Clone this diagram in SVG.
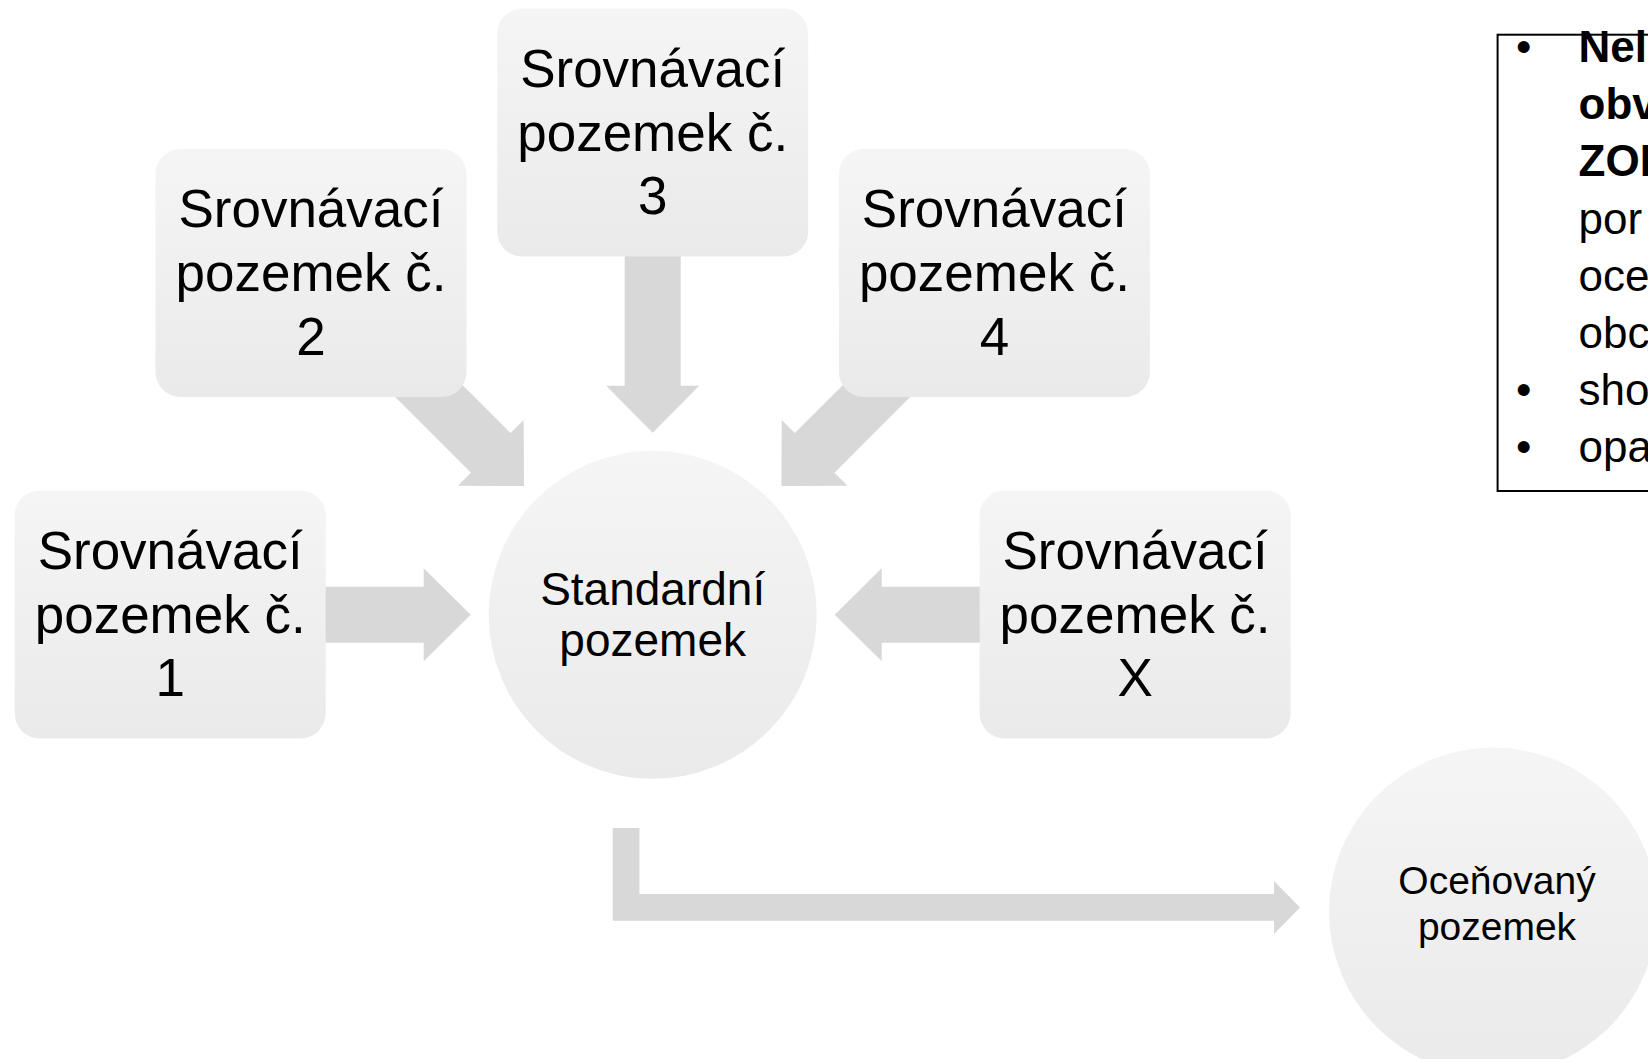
<svg xmlns="http://www.w3.org/2000/svg" width="1648" height="1059" viewBox="0 0 1648 1059">
  <defs>
    <linearGradient id="gBox" x1="0" y1="0" x2="0" y2="1">
      <stop offset="0" stop-color="#f5f5f5"/>
      <stop offset="1" stop-color="#eaeaea"/>
    </linearGradient>
    <path id="arr" d="M -400 -28 L -229 -28 L -229 -46.5 L -182 0 L -229 46.5 L -229 28 L -400 28 Z"/>
  </defs>
  <style>
    .box { fill: url(#gBox); }
    .arrow { fill: #d8d8d8; }
    .t { font-family: "Liberation Sans", Arial, sans-serif; fill: #000; text-anchor: middle; }
    .tb { font-size: 53px; }
    .tc { font-size: 46px; }
    .to { font-size: 39px; }
    .note { font-family: "Liberation Sans", Arial, sans-serif; font-size: 44px; fill: #000; }
    .b { font-weight: bold; }
  </style>
  <rect width="1648" height="1059" fill="#ffffff"/>

  <g id="connectors">
    <use href="#arr" class="arrow" transform="translate(652.7,614.8)"/>
    <use href="#arr" class="arrow" transform="translate(652.7,614.8) rotate(45)"/>
    <use href="#arr" class="arrow" transform="translate(652.7,614.8) rotate(90)"/>
    <use href="#arr" class="arrow" transform="translate(652.7,614.8) rotate(135)"/>
    <use href="#arr" class="arrow" transform="translate(652.7,614.8) rotate(180)"/>
    <path class="arrow" d="M 612.7 828 L 639.4 828 L 639.4 894 L 1274 894 L 1274 881 L 1300 907.4 L 1274 934 L 1274 920.7 L 612.7 920.7 Z"/>
  </g>

  <g id="node-1">
    <rect class="box" x="14.7" y="490.5" width="311" height="248" rx="25"/>
    <text class="t tb" x="170.2" y="568.5">Srovnávací</text>
    <text class="t tb" x="170.2" y="632.5">pozemek č.</text>
    <text class="t tb" x="170.2" y="696">1</text>
  </g>
  <g id="node-2">
    <rect class="box" x="155.5" y="149" width="311" height="248" rx="25"/>
    <text class="t tb" x="311" y="227">Srovnávací</text>
    <text class="t tb" x="311" y="291">pozemek č.</text>
    <text class="t tb" x="311" y="354.5">2</text>
  </g>
  <g id="node-3">
    <rect class="box" x="497.2" y="8.5" width="311" height="248" rx="25"/>
    <text class="t tb" x="652.7" y="86.5">Srovnávací</text>
    <text class="t tb" x="652.7" y="150.5">pozemek č.</text>
    <text class="t tb" x="652.7" y="214">3</text>
  </g>
  <g id="node-4">
    <rect class="box" x="838.9" y="149" width="311" height="248" rx="25"/>
    <text class="t tb" x="994.4" y="227">Srovnávací</text>
    <text class="t tb" x="994.4" y="291">pozemek č.</text>
    <text class="t tb" x="994.4" y="354.5">4</text>
  </g>
  <g id="node-x">
    <rect class="box" x="979.6" y="490.5" width="311" height="248" rx="25"/>
    <text class="t tb" x="1135.1" y="568.5">Srovnávací</text>
    <text class="t tb" x="1135.1" y="632.5">pozemek č.</text>
    <text class="t tb" x="1135.1" y="696">X</text>
  </g>
  <g id="node-standard">
    <circle class="box" cx="652.7" cy="614.8" r="164"/>
    <text class="t tc" x="652.7" y="604.5">Standardní</text>
    <text class="t tc" x="652.7" y="656">pozemek</text>
  </g>
  <g id="node-ocenovany">
    <circle class="box" cx="1493" cy="911.5" r="164"/>
    <text class="t to" x="1497" y="894">Oceňovaný</text>
    <text class="t to" x="1497" y="940">pozemek</text>
  </g>
  <g id="node-note">
    <rect x="1497.6" y="34.7" width="200" height="456.3" fill="#ffffff" stroke="#000000" stroke-width="2"/>
    <text class="note" x="1516" y="62">•</text>
    <text class="note b" x="1578.6" y="62">Nel</text>
    <text class="note b" x="1578.6" y="119">obv</text>
    <text class="note b" x="1578.6" y="176">ZON</text>
    <text class="note" x="1578.6" y="233.5">por</text>
    <text class="note" x="1578.6" y="290.5">oce</text>
    <text class="note" x="1578.6" y="347.5">obc</text>
    <text class="note" x="1516" y="404.5">•</text>
    <text class="note" x="1578.6" y="404.5">sho</text>
    <text class="note" x="1516" y="461.5">•</text>
    <text class="note" x="1578.6" y="461.5">opa</text>
  </g>
</svg>
